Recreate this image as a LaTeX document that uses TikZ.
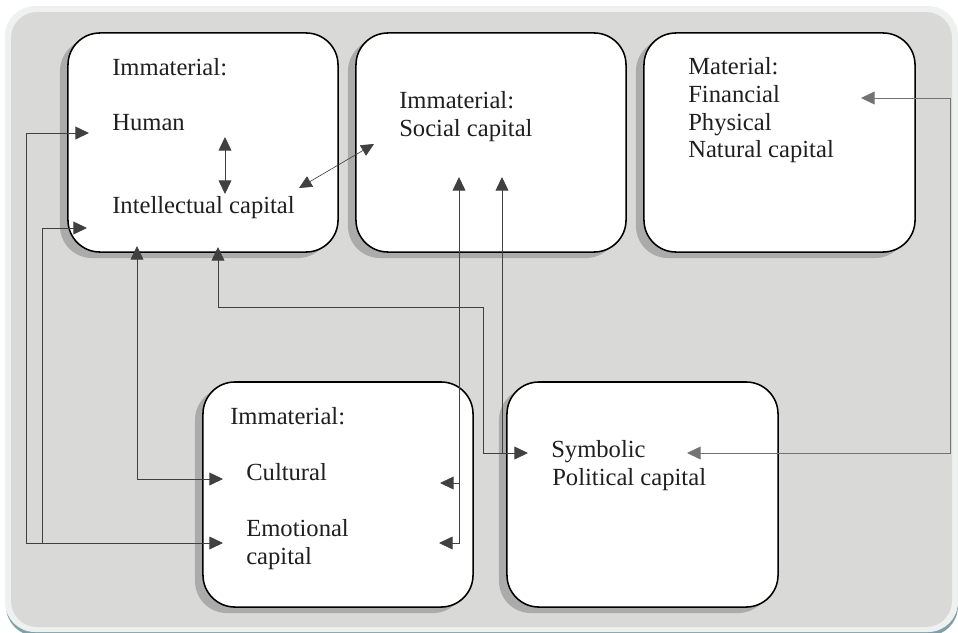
\documentclass[tikz,border=0pt]{standalone}
\usepackage{fontspec}
\setmainfont{Liberation Serif}
\usetikzlibrary{arrows.meta,shadows}

\begin{document}
\begin{tikzpicture}[x=0.025cm, y=-0.025cm,
  capbox/.style={draw, line width=1.1pt, fill=white, rounded corners=0.8cm, inner sep=0pt,
    drop shadow={shadow xshift=-0.2cm, shadow yshift=-0.15cm, fill=black!33, opacity=1}},
  lbl/.style={anchor=base west, inner sep=0pt, text=black!88, font=\fontsize{17.5}{20}\selectfont},
  link/.style={draw=black!75, line width=0.6pt},
  tip/.style={-{Triangle[length=0.34cm, width=0.32cm]}},
  tips/.style={{Triangle[length=0.34cm, width=0.32cm]}-{Triangle[length=0.34cm, width=0.32cm]}}]
\useasboundingbox (0,0) rectangle (958,632);
\fill[color={rgb,255:red,128;green,160;blue,168}, rounded corners=0.75cm] (6,10) rectangle (958,636);
\fill[color={rgb,255:red,239;green,241;blue,241}, rounded corners=0.75cm] (5,6) rectangle (958,632);
\fill[color={rgb,255:red,217;green,217;blue,215}, rounded corners=0.65cm] (11,12) rectangle (952,627);

\node[capbox, minimum width=6.75cm, minimum height=5.475cm] (hic) at (203,142.5) {};
\node[capbox, minimum width=6.75cm, minimum height=5.475cm] (soc) at (491,142.5) {};
\node[capbox, minimum width=6.775cm, minimum height=5.475cm] (mat) at (779.5,142.5) {};
\node[capbox, minimum width=6.75cm, minimum height=5.625cm] (cem) at (338,494.5) {};
\node[capbox, minimum width=6.775cm, minimum height=5.625cm] (sym) at (642.5,494.5) {};

\node[lbl] (hic-t) at (112,75) {Immaterial:};
\node[lbl] (hic-h) at (112,130) {Human};
\node[lbl] (hic-i) at (112,213) {Intellectual capital};
\node[lbl] (soc-t) at (399,108) {Immaterial:};
\node[lbl] (soc-s) at (399,136) {Social capital};
\node[lbl] (mat-t) at (688,74) {Material:};
\node[lbl] (mat-f) at (688,102) {Financial};
\node[lbl] (mat-p) at (688,130) {Physical};
\node[lbl] (mat-n) at (688,157) {Natural capital};
\node[lbl] (cem-t) at (230,424) {Immaterial:};
\node[lbl] (cem-c) at (246,480) {Cultural};
\node[lbl] (cem-e) at (246,536) {Emotional};
\node[lbl] (cem-k) at (246,564) {capital};
\node[lbl] (sym-s) at (551,457) {Symbolic};
\node[lbl] (sym-p) at (552,485) {Political capital};

\coordinate (hum-in) at (89,133);
\coordinate (int-in) at (87,228);
\coordinate (hum-dn) at (225,137);
\coordinate (int-up) at (225,194);
\coordinate (int-rt) at (299,188);
\coordinate (soc-lf) at (374,144);
\coordinate (hic-b1) at (137,246);
\coordinate (hic-b2) at (218,247);
\coordinate (soc-b1) at (459,177);
\coordinate (soc-b2) at (502,177);
\coordinate (cul-in) at (223,479);
\coordinate (emo-in) at (223,543);
\coordinate (cul-rt) at (440,483);
\coordinate (emo-rt) at (439,543);
\coordinate (sym-in) at (528,453);
\coordinate (sym-rt) at (687,453);
\coordinate (fin-rt) at (861,98);

\draw[link, tips] (hum-dn) -- (int-up);
\draw[link, line width=0.45pt, {Triangle[length=0.32cm, width=0.3cm]}-{Triangle[length=0.32cm, width=0.3cm]}] (int-rt) -- (soc-lf);
\draw[link, tips] (hum-in) -- (26,133) |- (emo-in);
\draw[link, tip] (42,543) |- (int-in);
\draw[link, tips] (hic-b1) |- (cul-in);
\draw[link, tips] (hic-b2) |- (483,307) |- (sym-in);
\draw[link, tips] (soc-b1) |- (emo-rt);
\draw[link, tip] (459,483) -- (cul-rt);
\draw[link, tip] (502,453) -- (soc-b2);
\draw[link, draw=black!55, tips] (fin-rt) -| (950,453) -- (sym-rt);
\end{tikzpicture}
\end{document}
